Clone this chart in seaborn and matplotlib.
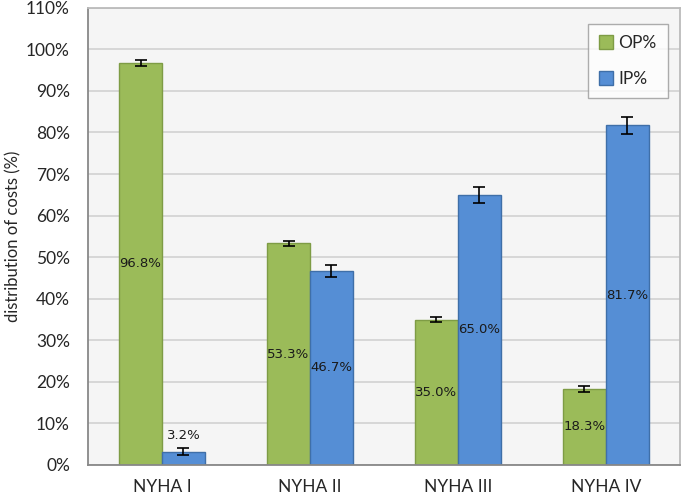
import numpy as np
import pandas as pd
import matplotlib
matplotlib.use("Agg")
import matplotlib.pyplot as plt
import seaborn as sns
from matplotlib.ticker import PercentFormatter
from matplotlib.patches import Patch

# Data
categories = ['NYHA I', 'NYHA II', 'NYHA III', 'NYHA IV']
op_pct = [96.8, 53.3, 35.0, 18.3]
ip_pct = [3.2, 46.7, 65.0, 81.7]
op_err = [0.7, 0.6, 0.6, 0.7]
ip_err = [0.8, 1.5, 2.0, 2.1]

COLORS = {'OP%': '#9BBB59', 'IP%': '#558ED5'}
EDGES = {'OP%': '#7E9C45', 'IP%': '#3F6FA8'}

sns.set_style('white')
plt.rcParams['font.family'] = ['Lato', 'DejaVu Sans']

df = pd.DataFrame({
    'category': categories * 2,
    'series': ['OP%'] * 4 + ['IP%'] * 4,
    'value': op_pct + ip_pct,
    'err': op_err + ip_err,
})

fig = plt.figure(figsize=(6.85, 4.98), dpi=100)
ax = fig.add_axes([0.1285, 0.0663, 0.864, 0.918])
ax.set_facecolor('#F5F5F5')

sns.barplot(data=df, x='category', y='value', hue='series',
            palette=COLORS, width=0.58, ax=ax, legend=False,
            errorbar=None, saturation=1)

# edge colours, error bars and labels per bar
for container, name in zip(ax.containers, ['OP%', 'IP%']):
    sub = df[df['series'] == name].reset_index(drop=True)
    for patch, (_, row) in zip(container.patches, sub.iterrows()):
        patch.set_edgecolor(EDGES[name])
        patch.set_linewidth(1.0)
        cx = patch.get_x() + patch.get_width() / 2
        ax.errorbar(cx, row['value'], yerr=row['err'], fmt='none',
                    ecolor='black', elinewidth=1.2, capsize=4, capthick=1.2,
                    zorder=5)
        label = f"{row['value']:.1f}%"
        if row['value'] < 10:
            ax.text(cx, row['value'] + row['err'] + 1.5, label,
                    ha='center', va='bottom', fontsize=9.5, color='#1a1a1a',
                    family='DejaVu Sans')
        else:
            ax.text(cx, row['value'] / 2, label,
                    ha='center', va='center', fontsize=9.5, color='#1a1a1a',
                    family='DejaVu Sans')

ax.set_ylim(0, 110)
ax.set_xlim(-0.5, 3.5)
ax.set_yticks(np.arange(0, 111, 10))
ax.yaxis.set_major_formatter(PercentFormatter(decimals=0))
ax.yaxis.grid(True, color='#D4D4D4', linewidth=1.3)
ax.set_axisbelow(True)

# category boundary ticks
ax.set_xticks(range(len(categories)))
ax.set_xticklabels(categories)
ax.set_xticks([0.5, 1.5, 2.5], minor=True)
ax.tick_params(axis='x', which='major', length=0, labelsize=12.5, pad=10)
ax.tick_params(axis='x', which='minor', direction='in', length=5,
               color='#888888', width=1.2)
ax.tick_params(axis='y', length=5, color='#888888', width=1.2,
               labelsize=12.5, pad=8)

ax.set_xlabel('')
ax.set_ylabel('distribution of costs (%)', fontsize=12, labelpad=3)

for side in ['left', 'bottom', 'right', 'top']:
    ax.spines[side].set_visible(True)
    ax.spines[side].set_linewidth(1.3)
ax.spines['left'].set_color('#888888')
ax.spines['bottom'].set_color('#888888')
ax.spines['right'].set_color('#BBBBBB')
ax.spines['top'].set_color('#BBBBBB')

handles = [Patch(facecolor=COLORS[k], edgecolor=EDGES[k], label=k)
           for k in ['OP%', 'IP%']]
leg = ax.legend(handles=handles, loc='upper right',
                bbox_to_anchor=(0.98, 0.965), borderaxespad=0,
                fontsize=12.5, frameon=True, fancybox=False,
                handlelength=0.8, handleheight=0.8, handletextpad=0.3,
                labelspacing=1.15, borderpad=0.65)
leg.get_frame().set_edgecolor('#999999')
leg.get_frame().set_facecolor('white')
leg.get_frame().set_linewidth(1.0)

fig.savefig('out.png', dpi=100)
